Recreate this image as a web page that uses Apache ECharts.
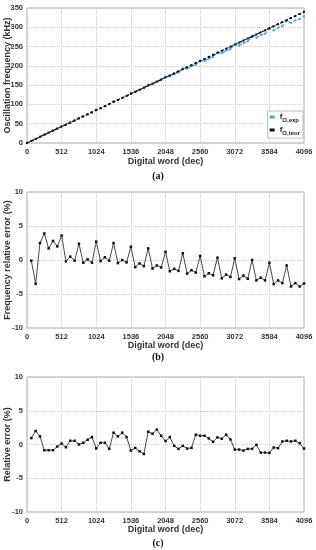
<!DOCTYPE html>
<html><head><meta charset="utf-8">
<script src="https://cdn.jsdelivr.net/npm/echarts@6/dist/echarts.min.js"></script>
<style>html,body{margin:0;padding:0;background:#fff}#c{width:316px;height:550px}</style>
</head><body><div id="c"></div>
<script>
const words = [0,64,128,192,256,320,384,448,512,576,640,704,768,832,896,960,1024,1088,1152,1216,1280,1344,1408,1472,1536,1600,1664,1728,1792,1856,1920,1984,2048,2112,2176,2240,2304,2368,2432,2496,2560,2624,2688,2752,2816,2880,2944,3008,3072,3136,3200,3264,3328,3392,3456,3520,3584,3648,3712,3776,3840,3904,3968,4032,4096];
const fTeor = [0,5.3,10.6,15.9,21.3,26.6,31.9,37.2,42.5,47.8,53.1,58.4,63.8,69.1,74.4,79.7,85.0,90.3,95.6,100.9,106.3,111.6,116.9,122.2,127.5,132.8,138.1,143.4,148.8,154.1,159.4,164.7,170.0,175.3,180.6,185.9,191.3,196.6,201.9,207.2,212.5,217.8,223.1,228.4,233.8,239.1,244.4,249.7,255.0,260.3,265.6,270.9,276.3,281.6,286.9,292.2,297.5,302.8,308.1,313.4,318.8,324.1,329.4,334.7,340.0];
const fExp = [0,5.3,10.2,16.3,22.1,27.1,32.8,37.9,44.0,47.7,53.4,58.3,65.3,68.8,74.5,79.4,87.3,90.2,96.0,100.8,109.0,111.1,116.9,121.8,130.0,131.4,137.4,142.1,151.3,152.2,158.1,162.9,172.0,172.4,178.3,182.9,193.2,192.7,198.9,203.4,213.8,212.6,218.7,223.3,234.6,232.6,239.1,243.5,255.6,253.0,259.5,263.5,276.3,273.2,279.4,283.4,296.3,292.0,298.9,302.7,316.2,311.5,318.2,321.6,328.3];
const errWords = words.slice(1);
const freqErr = [-0.1,-3.5,2.5,3.9,1.7,2.8,2.0,3.6,-0.2,0.5,-0.1,2.4,-0.4,0.1,-0.4,2.7,-0.15,0.4,-0.1,2.5,-0.45,0.0,-0.35,1.95,-1.05,-0.5,-0.9,1.7,-1.25,-0.8,-1.1,1.2,-1.65,-1.3,-1.6,1.0,-2.0,-1.5,-1.85,0.6,-2.4,-1.95,-2.25,0.35,-2.7,-2.15,-2.5,0.25,-2.8,-2.3,-2.75,0.0,-3.0,-2.6,-3.0,-0.4,-3.55,-3.0,-3.4,-0.8,-3.9,-3.4,-3.9,-3.45];
const relErr = [0.95,2.0,1.2,-0.85,-0.85,-0.85,-0.3,0.15,-0.4,0.55,0.55,0.0,0.25,0.7,1.1,-0.6,0.25,0.25,-0.65,1.75,1.2,1.75,1.1,-0.9,-0.5,-1.0,-1.4,1.9,1.6,2.2,1.3,0.5,1.1,-0.2,-0.65,-0.2,-0.6,-0.5,1.45,1.3,1.3,0.9,0.4,1.05,0.85,1.45,0.75,-0.75,-0.75,-0.9,-0.65,-0.65,-0.05,-1.2,-1.2,-1.25,-0.45,-0.55,0.45,0.55,0.45,0.55,0.2,-0.6];
const xTicks = [0,512,1024,1536,2048,2560,3072,3584,4096];
const captions = ['(a)','(b)','(c)'];
const yTitles = ['Oscillation frequency (kHz)','Frequency relative error (%)','Relative error (%)'];
const xTitle = 'Digital word (dec)';

const pair = (xs, ys) => xs.map((x,i)=>[x, ys[i]]);
const FONT = 'Liberation Sans';
const grids = [
  {left:27, right:12, top:8, height:135},
  {left:27, right:12, top:192, height:136},
  {left:27, right:12, top:377, height:135}
];
const yRanges = [[0,350,50],[-10,10,5],[-10,10,5]];
const chart = echarts.init(document.getElementById('c'), null, {renderer:'canvas'});
const option = {
  animation:false,
  backgroundColor:'#fff',
  title: [
    {text:captions[0], left:'center', top:166},
    {text:captions[1], left:'center', top:347},
    {text:captions[2], left:'center', top:533}
  ].map(t=>Object.assign(t,{textStyle:{fontFamily:'Liberation Serif',fontWeight:'bold',fontSize:10,color:'#111'}})),
  grid: grids.map(g=>Object.assign({show:true, containLabel:false, outerBoundsMode:'none', borderColor:'#aaa', borderWidth:1, backgroundColor:'#fff'}, g)),
  xAxis: [0,1,2].map(i=>({
    type:'value', gridIndex:i, min:0, max:4096, interval:512,
    name:xTitle, nameLocation:'middle', nameGap:i===0?14:13, nameMoveOverlap:false,
    nameTextStyle:{fontFamily:FONT,fontWeight:'bold',fontSize:9,color:'#333'},
    axisLine:{show:false}, axisTick:{show:false},
    axisLabel:{fontFamily:FONT,fontWeight:'bold',fontSize:7.5,color:'#333',margin:5,
      formatter:v=>xTicks.includes(v)?String(v):''},
    splitLine:{show:true,lineStyle:{type:'dotted',color:'#ccc',width:1}}
  })),
  yAxis: [0,1,2].map(i=>({
    type:'value', gridIndex:i, min:yRanges[i][0], max:yRanges[i][1], interval:yRanges[i][2],
    name:yTitles[i], nameLocation:'middle', nameGap:15, nameMoveOverlap:false,
    nameTextStyle:{fontFamily:FONT,fontWeight:'bold',fontSize:9,color:'#333'},
    axisLine:{show:false}, axisTick:{show:false},
    axisLabel:{fontFamily:FONT,fontWeight:'bold',fontSize:7.5,color:'#333',margin:4},
    splitLine:{show:true,lineStyle:{type:'dotted',color:'#ccc',width:1}}
  })),
  legend: {
    orient:'vertical', right:13, top:111, itemWidth:5, itemHeight:3, itemGap:3,
    backgroundColor:'#fff', borderColor:'#bbb', borderWidth:1, padding:[2,3,2,2],
    data:[{name:'exp',icon:'rect'},{name:'teor',icon:'rect'}],
    formatter: n => '{f|f}{s|O,' + n + '}',
    textStyle:{fontFamily:FONT,fontWeight:'bold',color:'#222',
      rich:{f:{fontFamily:FONT,fontWeight:'bold',fontSize:8,color:'#222'},
            s:{fontFamily:FONT,fontWeight:'bold',fontSize:6,color:'#222',padding:[6,0,0,0]}}}
  },
  series: [
    {name:'exp', type:'line', xAxisIndex:0, yAxisIndex:0, data:pair(words,fExp),
     symbol:'rect', symbolSize:2, itemStyle:{color:'#4aa3dc'},
     lineStyle:{color:'#4aa3dc',width:1.2,type:[3,2]}, z:2},
    {name:'teor', type:'line', xAxisIndex:0, yAxisIndex:0, data:pair(words,fTeor),
     symbol:'rect', symbolSize:2, itemStyle:{color:'#111'},
     lineStyle:{color:'#111',width:1.2,type:[3,2]}, z:3},
    {name:'freqErr', type:'line', xAxisIndex:1, yAxisIndex:1, data:pair(errWords,freqErr),
     symbol:'rect', symbolSize:2.5, itemStyle:{color:'#111'},
     lineStyle:{color:'#333',width:0.9}},
    {name:'relErr', type:'line', xAxisIndex:2, yAxisIndex:2, data:pair(errWords,relErr),
     symbol:'rect', symbolSize:2.5, itemStyle:{color:'#111'},
     lineStyle:{color:'#333',width:0.9}}
  ]
};
chart.setOption(option);
</script></body></html>
